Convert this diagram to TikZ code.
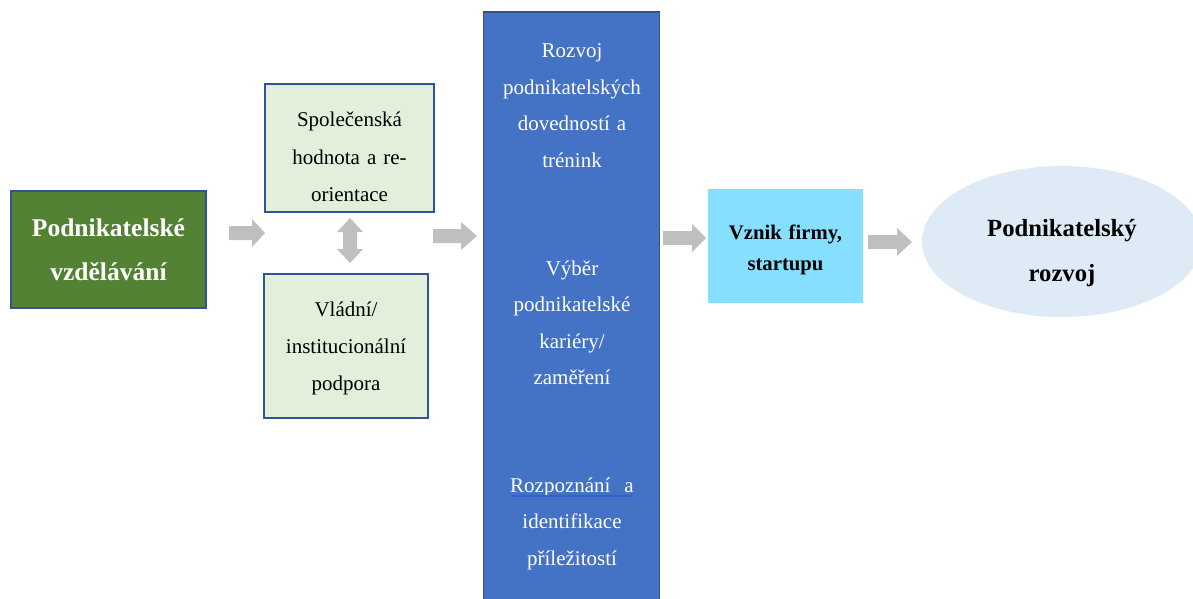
\documentclass[tikz,border=0pt]{standalone}
\usepackage{fontspec}
\setmainfont{Liberation Serif}
\usetikzlibrary{shapes.geometric}
\definecolor{boxgreen}{HTML}{548235}
\definecolor{boxborder}{HTML}{2F5597}
\definecolor{lightgreen}{HTML}{E2EFDA}
\definecolor{colblue}{HTML}{4472C4}
\definecolor{colborder}{HTML}{2F528F}
\definecolor{cyanbox}{HTML}{87DFFF}
\definecolor{ellfill}{HTML}{DEEAF6}
\definecolor{arrowgray}{HTML}{BFBFBF}
\definecolor{ulblue}{HTML}{2E62D6}
\newcommand\blockarrow[4]{% x0, x1, yc, head length
  \fill[arrowgray] (#1,#3-7) -- (#2-#4,#3-7) -- (#2-#4,#3-14) -- (#2,#3)
    -- (#2-#4,#3+14) -- (#2-#4,#3+7) -- (#1,#3+7) -- cycle;}
\tikzset{
  boxshape/.style={rectangle, inner sep=0pt, line width=2pt, draw=boxborder},
  greenbox/.style={boxshape, fill=boxgreen},
  lightbox/.style={boxshape, fill=lightgreen},
  colbox/.style={rectangle, inner sep=0pt, line width=1.5pt, draw=colborder, fill=colblue},
  cyanshape/.style={rectangle, inner sep=0pt, fill=cyanbox},
  ellshape/.style={ellipse, inner sep=0pt, fill=ellfill},
  txt/.style={anchor=base, align=center, inner sep=0pt},
  normtxt/.style={txt, font=\fontsize{21}{37}\selectfont},
  coltxt/.style={txt, font=\fontsize{21}{36.5}\selectfont, text=white, text width=172pt},
}
\begin{document}
\begin{tikzpicture}[x=1pt,y=-1pt]
\useasboundingbox (0,0) rectangle (1193,599);
\clip (0,0) rectangle (1193,599);

% boxes
\node[greenbox, minimum width=195pt, minimum height=117pt] (edu) at (108.5,249.5) {};
\node[lightbox, minimum width=169pt, minimum height=128pt] (soc) at (349.5,148) {};
\node[lightbox, minimum width=164pt, minimum height=144pt] (gov) at (346,346) {};
\node[colbox, minimum width=176pt, minimum height=620pt] (col) at (571.5,322) {};
\node[cyanshape, minimum width=155pt, minimum height=114pt] (firm) at (785.5,246) {};
\node[ellshape, minimum width=280pt, minimum height=151pt] (dev) at (1062,241.5) {};

% texts
\node[txt, font=\bfseries\fontsize{25.5}{44}\selectfont, text=white, text width=190pt]
  (edut) at (108.5,236.5) {Podnikatelské\\vzdělávání};
\node[normtxt, text width=165pt] (soct) at (349.5,127) {Společenská\\hodnota a re-\\orientace};
\node[normtxt, text width=160pt] (govt) at (346,316) {Vládní/\\institucionální\\podpora};
\node[coltxt] (col1) at (572,58) {Rozvoj\\podnikatelských\\dovedností a\\trénink};
\node[coltxt] (col2) at (572,275) {Výběr\\podnikatelské\\kariéry/\\zaměření};
\node[coltxt] (col3) at (572,492) {Rozpoznání\ \ a\\identifikace\\příležitostí};
\node[txt, font=\bfseries\fontsize{20.7}{31}\selectfont, text width=150pt]
  (firmt) at (785.5,239.5) {Vznik firmy,\\startupu};
\node[txt, font=\bfseries\fontsize{24.7}{45}\selectfont, text width=220pt]
  (devt) at (1062,236.5) {Podnikatelský\\rozvoj};

% blue underline under "Rozpoznání  a"
\coordinate (ulA) at (511,496);
\coordinate (ulB) at (633,496);
\draw[ulblue, line width=1.2pt] (ulA) -- (ulB);

% block arrows
\blockarrow{229}{265}{233}{13}
\blockarrow{433}{477}{236}{16}
\blockarrow{663}{706}{238}{14}
\blockarrow{868}{912}{242}{15}
% double vertical arrow
\fill[arrowgray] (350,218) -- (363,232) -- (357,232) -- (357,249) -- (363,249)
  -- (350,263) -- (337,249) -- (343,249) -- (343,232) -- (337,232) -- cycle;
\end{tikzpicture}
\end{document}
